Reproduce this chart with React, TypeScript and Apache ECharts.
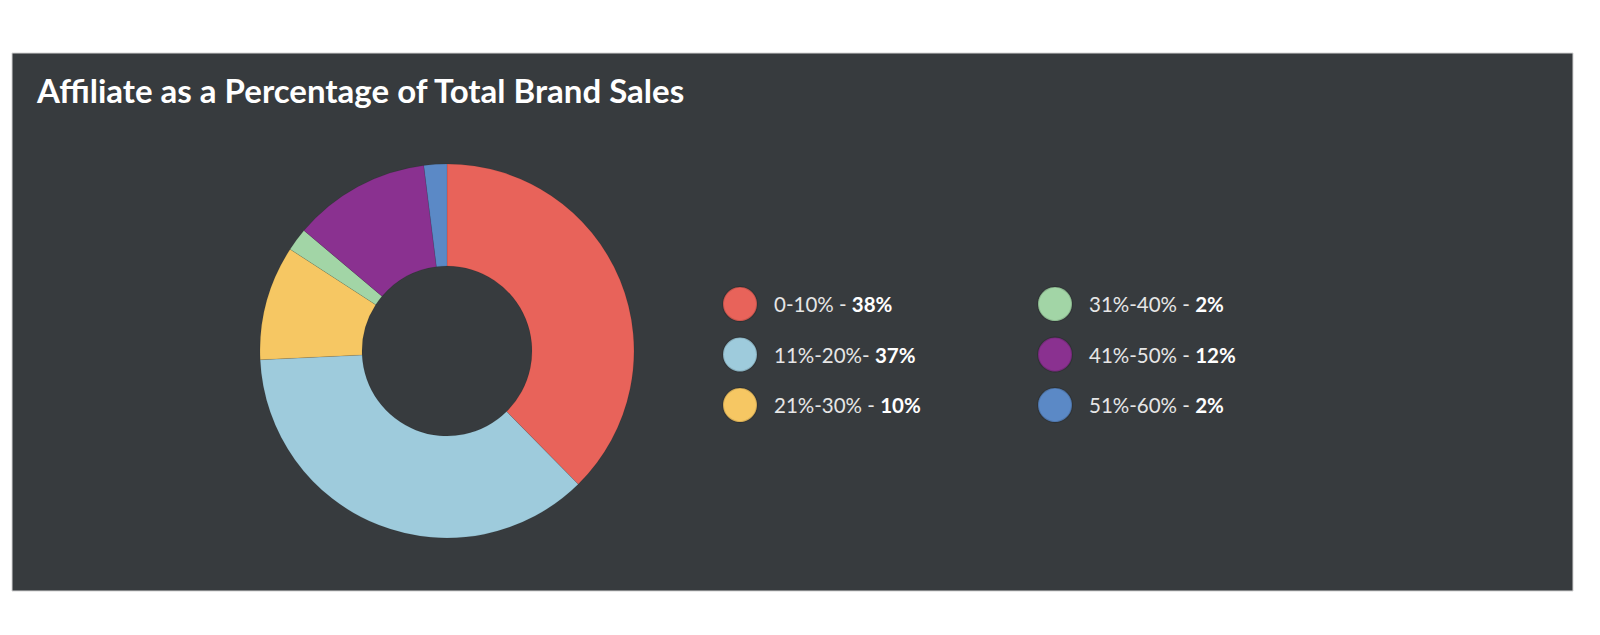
import React, { useEffect, useRef } from 'react';
import * as echarts from 'echarts';

const title = 'Affiliate as a Percentage of Total Brand Sales';
const categories = ['0-10%', '11%-20%', '21%-30%', '31%-40%', '41%-50%', '51%-60%'];
const separators = [' - ', '- ', ' - ', ' - ', ' - ', ' - '];
const values = [38, 37, 10, 2, 12, 2];
const colors = ['#e8635a', '#9ecbdc', '#f6c763', '#a2d5a6', '#8a3190', '#5b89c6'];

const BG = '#373b3e';
const FONT = 'Lato, "DejaVu Sans", sans-serif';

const App: React.FC = () => {
  const chartRef = useRef<HTMLDivElement>(null);

  useEffect(() => {
    document.body.style.margin = '0';
    if (!chartRef.current) return;
    const chart = echarts.init(chartRef.current, null, { renderer: 'svg' });

    const legendItem = (left: number, names: string[]) => ({
      orient: 'vertical' as const,
      left,
      top: 286,
      padding: 0,
      icon: 'circle',
      itemWidth: 34,
      itemHeight: 34,
      itemGap: 14.5,
      selectedMode: false,
      data: names,
      formatter: (name: string) => {
        const i = categories.indexOf(name);
        return `{n|${name}${separators[i]}}{b|${values[i]}%}`;
      },
      textStyle: {
        fontFamily: FONT,
        rich: {
          n: { color: '#e6e6e6', fontSize: 20.5, fontFamily: FONT, padding: [0, 0, 0, 12] },
          b: { color: '#ffffff', fontSize: 20.5, fontWeight: 'bold', fontFamily: FONT }
        }
      }
    });

    const option: echarts.EChartsOption = {
      animation: false,
      backgroundColor: '#ffffff',
      graphic: [
        {
          type: 'rect',
          z: -10,
          silent: true,
          shape: { x: 12, y: 53, width: 1561, height: 538 },
          style: { fill: BG, stroke: '#d4d4d4', lineWidth: 1 }
        }
      ],
      title: {
        text: title,
        left: 37,
        top: 73,
        padding: 0,
        textStyle: { color: '#ffffff', fontSize: 33, fontWeight: 'bold', fontFamily: FONT }
      },
      legend: [
        legendItem(722, categories.slice(0, 3)),
        legendItem(1037, categories.slice(3))
      ],
      series: [
        {
          type: 'pie',
          center: [447, 351],
          radius: [85, 187],
          startAngle: 90,
          clockwise: true,
          label: { show: false },
          labelLine: { show: false },
          emphasis: { disabled: true },
          itemStyle: { borderColor: 'rgba(0,0,0,0.15)', borderWidth: 0.6 },
          data: categories.map((name, i) => ({
            name,
            value: values[i],
            itemStyle: { color: colors[i] }
          }))
        }
      ]
    };

    chart.setOption(option);
    return () => chart.dispose();
  }, []);

  return <div ref={chartRef} style={{ width: 1600, height: 635 }} />;
};

export default App;
